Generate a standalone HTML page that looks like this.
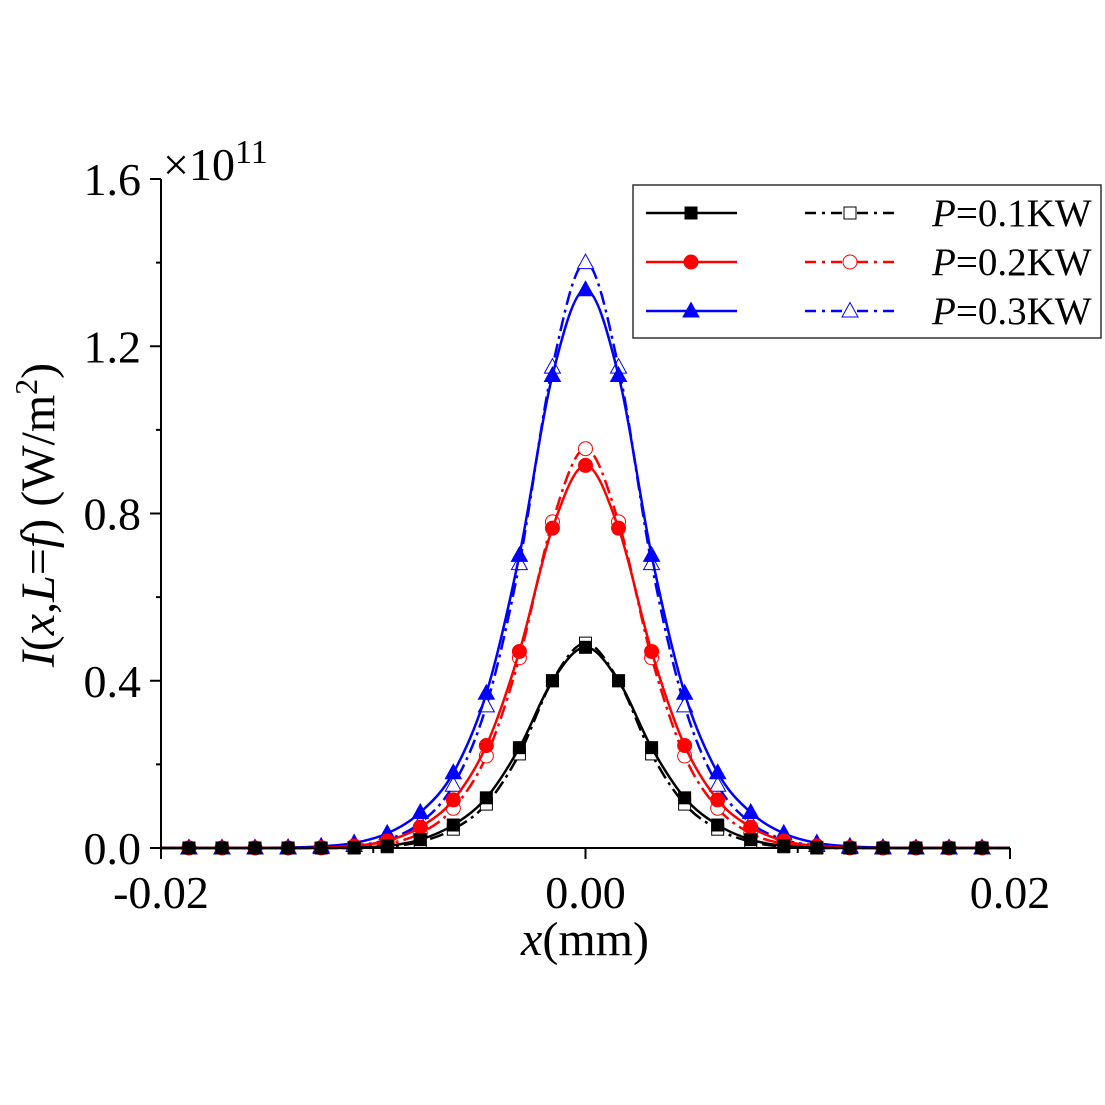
<!DOCTYPE html>
<html><head><meta charset="utf-8"><style>
body{margin:0;background:#fff}
svg{display:block}
text{font-family:"Liberation Serif",serif;fill:#000}
</style></head><body>
<svg id="chart" width="1105" height="1105" viewBox="0 0 1105 1105" xmlns="http://www.w3.org/2000/svg">
<g id="plot"></g>
<g id="axes"></g>
<g id="legend"></g>
</svg>
<script>
const markerIdx = [-12,-11,-10,-9,-8,-7,-6,-5,-4,-3,-2,-1,0,1,2,3,4,5,6,7,8,9,10,11,12];
const markerStep = 0.001557;
// half-profiles, index 0 = center, mirrored
const black1 = [0.48,0.40,0.24,0.12,0.055,0.02,0.005,0.001,0,0,0,0,0];
const black2 = [0.49,0.40,0.225,0.105,0.045,0.015,0.003,0,0,0,0,0,0];
const red1 = [0.915,0.765,0.47,0.245,0.115,0.05,0.017,0.005,0.001,0,0,0,0];
const red2 = [0.955,0.78,0.455,0.22,0.095,0.035,0.01,0.003,0,0,0,0,0];
const blue1 = [1.335,1.13,0.70,0.37,0.18,0.085,0.035,0.012,0.004,0.001,0,0,0];
const blue2 = [1.40,1.15,0.68,0.34,0.15,0.06,0.02,0.006,0.001,0,0,0,0];
const yTicks = ["0.0","0.4","0.8","1.2","1.6"];
const xTicks = ["-0.02","0.00","0.02"];
const labels = ["0.1","0.2","0.3"];

const NS="http://www.w3.org/2000/svg";
const X0=161,X1=1010,Y0=848,Y1=179;
const xs=v=>X0+(v+0.02)/0.04*(X1-X0);
const ys=v=>Y0-v/1.6*(Y0-Y1);
function mk(tag,attrs,parent){const e=document.createElementNS(NS,tag);for(const k in attrs)e.setAttribute(k,attrs[k]);parent.appendChild(e);return e;}
const plot=document.getElementById('plot'),axes=document.getElementById('axes'),leg=document.getElementById('legend');

function pts(half){return markerIdx.map(k=>[xs(k*markerStep),ys(half[Math.abs(k)])]);}
function smooth(p){let d=`M${p[0][0]},${p[0][1]}`;for(let i=0;i<p.length-1;i++){const a=p[Math.max(0,i-1)],b=p[i],c=p[i+1],e=p[Math.min(p.length-1,i+2)];
const c1=[b[0]+(c[0]-a[0])/6,b[1]+(c[1]-a[1])/6],c2=[c[0]-(e[0]-b[0])/6,c[1]-(e[1]-b[1])/6];
d+=` C${c1[0]},${Math.min(c1[1],Y0)} ${c2[0]},${Math.min(c2[1],Y0)} ${c[0]},${c[1]}`;}return d;}
function marker(type,filled,color,x,y,parent,size){
  let e;const s=size||8;
  const fill=filled?color:'#fff';
  if(type==='sq')e=mk('rect',{x:x-s*0.6,y:y-s*0.6,width:s*1.2,height:s*1.2,fill,stroke:filled?color:'#000','stroke-width':1},parent);
  else if(type==='ci')e=mk('circle',{cx:x,cy:y,r:s*0.7,fill,stroke:color,'stroke-width':1},parent);
  else e=mk('polygon',{points:`${x},${y-s*0.85} ${x-s*0.8},${y+s*0.6} ${x+s*0.8},${y+s*0.6}`,fill,stroke:color,'stroke-width':1},parent);
  return e;
}
const series=[
 {d:blue2,c:'#0000ff',t:'tr',f:false,dash:'14,5,3,5',name:'blue-dashed-0.3kw'},
 {d:red2,c:'#ff0000',t:'ci',f:false,dash:'14,5,3,5',name:'red-dashed-0.2kw'},
 {d:black2,c:'#000',t:'sq',f:false,dash:'14,5,3,5',name:'black-dashed-0.1kw'},
 {d:blue1,c:'#0000ff',t:'tr',f:true,dash:'',name:'blue-solid-0.3kw'},
 {d:red1,c:'#ff0000',t:'ci',f:true,dash:'',name:'red-solid-0.2kw'},
 {d:black1,c:'#000',t:'sq',f:true,dash:'',name:'black-solid-0.1kw'}
];
series.forEach(s=>{
  const g=mk('g',{},plot);
  
  
  const p=pts(s.d);
  const full=[[X0,Y0],...p,[X1,Y0]];
  const line=mk('path',{d:smooth(full),fill:'none',stroke:s.c,'stroke-width':2.5,'stroke-dasharray':s.dash},g);
  
  
  p.forEach(q=>{const m=marker(s.t,s.f,s.c,q[0],q[1],g,10);
    
    });
});
// axes
mk('line',{x1:X0,y1:Y1,x2:X0,y2:Y0,stroke:'#000','stroke-width':2},axes);
mk('line',{x1:X0,y1:Y0,x2:X1,y2:Y0,stroke:'#000','stroke-width':2},axes);
for(let i=0;i<=8;i++){const y=ys(i*0.2);mk('line',{x1:X0,y1:y,x2:X0-(i%2?5:11),y2:y,stroke:'#000','stroke-width':2},axes);}
yTicks.forEach((t,i)=>{const e=mk('text',{x:141,y:ys(i*0.4)+16,'text-anchor':'end','font-size':46},axes);e.textContent=t;
 });
for(let i=0;i<=4;i++){const x=xs(-0.02+i*0.01);mk('line',{x1:x,y1:Y0,x2:x,y2:Y0+(i%2?5:11),stroke:'#000','stroke-width':2},axes);}
xTicks.forEach((t,i)=>{const e=mk('text',{x:xs(-0.02+i*0.02),y:908,'text-anchor':'middle','font-size':46},axes);e.textContent=t;
 });
let e=mk('text',{x:163,y:180,'font-size':46},axes);
e.innerHTML='×10<tspan dy="-17" font-size="34">11</tspan>';

e=mk('text',{x:585,y:955,'text-anchor':'middle','font-size':48},axes);
e.innerHTML='<tspan font-style="italic">x</tspan>(mm)';

e=mk('text',{x:0,y:0,'text-anchor':'middle','font-size':48,transform:'translate(54,515) rotate(-90)'},axes);
e.innerHTML='<tspan font-style="italic">I</tspan>(<tspan font-style="italic">x</tspan>,<tspan font-style="italic">L</tspan>=<tspan font-style="italic">f</tspan>) (W/m<tspan dy="-17" font-size="32">2</tspan><tspan dy="17">)</tspan>';

// legend
mk('rect',{x:633,y:185,width:468,height:153,fill:'#fff',stroke:'#333','stroke-width':1.5},leg);
const legSpec=[['#000','sq'],['#ff0000','ci'],['#0000ff','tr']];
legSpec.forEach((s,i)=>{const y=213+i*49;
 const g=mk('g',{},leg);
 mk('line',{x1:646,y1:y,x2:737,y2:y,stroke:s[0],'stroke-width':2.5},g);
 marker(s[1],true,s[0],691,y,g,10);
 mk('line',{x1:805,y1:y,x2:895,y2:y,stroke:s[0],'stroke-width':2.5,'stroke-dasharray':'11,6,3,6'},g);
 marker(s[1],false,s[0],850,y,g,10);
 const t=mk('text',{x:932,y:y+13,'font-size':39},g);
 t.innerHTML='<tspan font-style="italic">P</tspan>='+labels[i]+'KW';
});
</script>
</body></html>
